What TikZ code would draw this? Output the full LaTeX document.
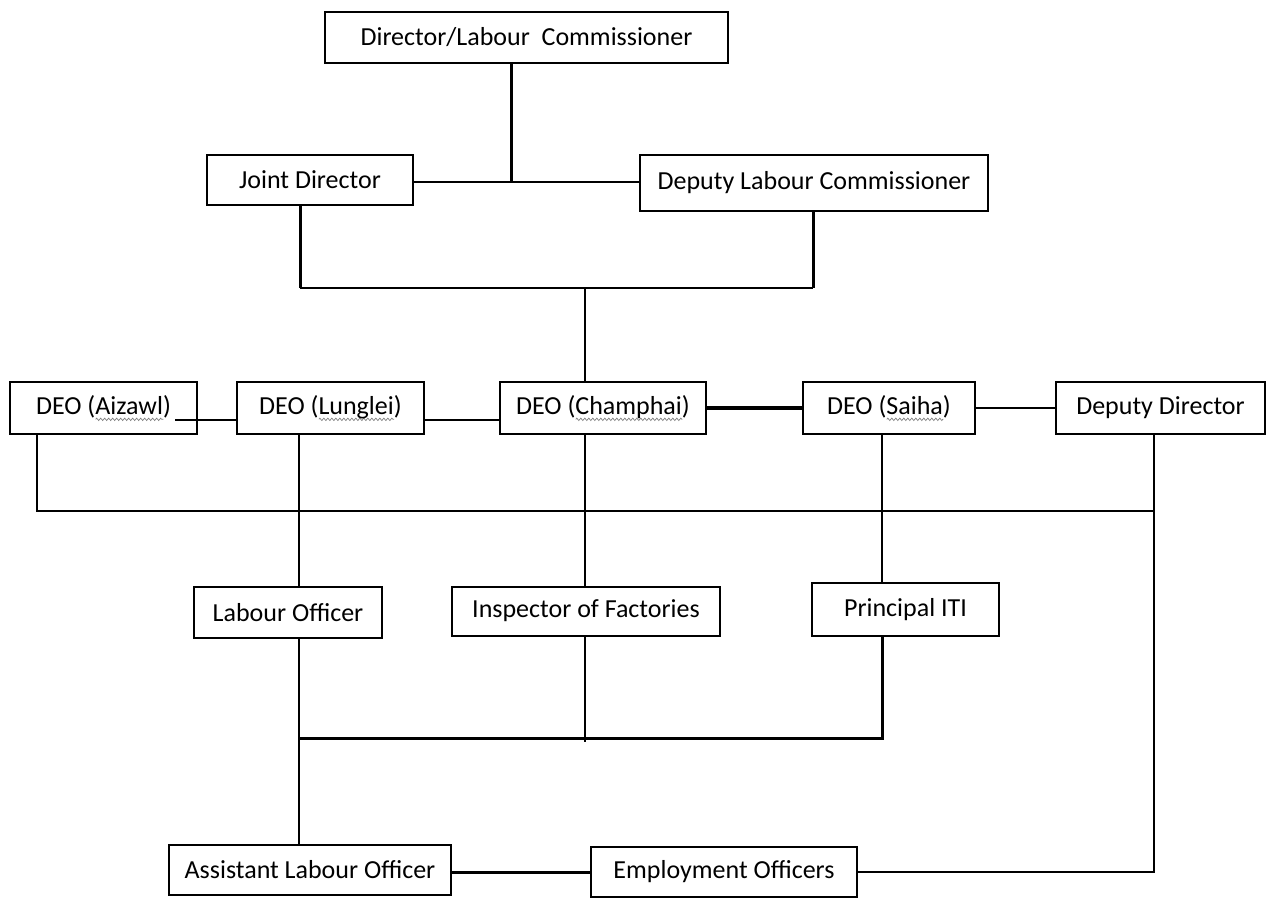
\documentclass[tikz,border=0pt]{standalone}
\usepackage{fontspec}
\setmainfont{Carlito}
\usetikzlibrary{decorations.pathmorphing}
\newlength\sqlen
\newcommand\squig[1]{\settowidth\sqlen{#1}\rlap{\tikz[baseline=0pt, x=1pt, y=1pt]\draw[gray, line width=0.35pt, decorate, decoration={zigzag, amplitude=0.6pt, segment length=2pt}] (0pt,-2.6pt) -- (\sqlen,-2.6pt);}#1}
\tikzset{
	post/.style={draw, line width=1pt, minimum height=25pt, inner sep=0pt, font=\fontsize{13}{15}\selectfont},
	link/.style={line width=1pt},
	boldlink/.style={line width=1.5pt},
}

\begin{document}
\begin{tikzpicture}[x=0.5pt, y=-0.5pt]
		\fill [white] (0,0) rectangle (1271,900);
		\useasboundingbox (0,0) rectangle (1271,900);
		%top
			\node [post, minimum width=201.5pt, minimum height=25.5pt] (dir) at (526.5,37.5) {Director/Labour\ \ Commissioner};
			\node [post, minimum width=103pt] (jd) at (310,180) {Joint Director};
			\node [post, minimum width=174pt, minimum height=28pt] (dlc) at (814,183) {Deputy Labour Commissioner};
		%districts
			\node [post, minimum width=93.5pt, minimum height=26pt] (aiz) at (103.5,408) {DEO (\squig{Aizawl})};
			\node [post, minimum width=93.5pt, minimum height=26pt] (lun) at (330.5,408) {DEO (\squig{Lunglei})};
			\node [post, minimum width=103pt, minimum height=26pt] (cha) at (603,408) {DEO (\squig{Champhai})};
			\node [post, minimum width=86pt, minimum height=26pt] (sai) at (889,408) {DEO (\squig{Saiha})};
			\node [post, minimum width=104.5pt, minimum height=26pt] (dd) at (1160.5,408) {Deputy Director};
		%officers
			\node [post, minimum width=94pt, minimum height=25.5pt] (lo) at (288,612.5) {Labour Officer};
			\node [post, minimum width=134pt, minimum height=24.5pt] (ins) at (586,611) {Inspector of Factories};
			\node [post, minimum width=93.5pt, minimum height=26.5pt] (pit) at (905.5,609.5) {Principal ITI};
		%bottom
			\node [post, minimum width=141pt] (alo) at (310,870) {Assistant Labour Officer};
			\node [post, minimum width=133pt] (emp) at (724,872) {Employment Officers};
		%junctions
			\coordinate (j1) at (511,182);
			\coordinate (j2) at (300,288);
			\coordinate (j3) at (813,288);
			\coordinate (j4) at (585,288);
			\coordinate (a1) at (175,420);
			\coordinate (b1) at (37,511);
			\coordinate (b2) at (1154,511);
			\coordinate (b3) at (1154,872);
			\coordinate (c1) at (299,511);
			\coordinate (m1) at (585,742);
			\coordinate (m2) at (882,738);
			\coordinate (m3) at (299,738);
		%top links
			\draw [boldlink] (dir.south -| j1) to (j1);
			\draw [link] (jd.east |- j1) to (dlc.west |- j1);
			\draw [boldlink] (jd.south -| j2) to (j2);
			\draw [boldlink] (dlc.south -| j3) to (j3);
			\draw [link] (j2) to (j3);
			\draw [link] (j4) to (cha.north -| j4);
		%district row
			\draw [link] (a1) to (a1 -| lun.west);
			\draw [link] (lun.east |- a1) to (cha.west |- a1);
			\draw [line width=2pt] (cha.east) to (sai.west);
			\draw [link] (sai.east) to (dd.west);
			\draw [link] (aiz.south -| b1) to (b1) to (b2);
			\draw [link] (dd.south -| b2) to (b3) to (emp.east |- b3);
		%down to officers
			\draw [link] (lun.south -| c1) to (lo.north -| c1);
			\draw [link] (cha.south -| j4) to (ins.north -| j4);
			\draw [link] (sai.south -| m2) to (pit.north -| m2);
			\draw [link] (lo.south -| c1) to (alo.north -| c1);
			\draw [link] (ins.south -| m1) to (m1);
			\draw [boldlink] (pit.south -| m2) to (m2) to (m3);
			\draw [boldlink] (alo.east |- b3) to (emp.west |- b3);
\end{tikzpicture}
\end{document}
